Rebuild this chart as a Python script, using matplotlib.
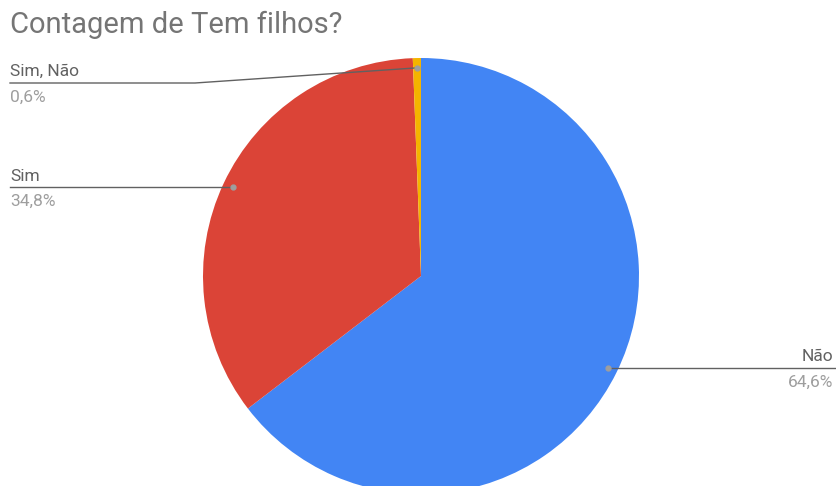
import numpy as np
import matplotlib
matplotlib.use("Agg")
import matplotlib.pyplot as plt

# pie data, clockwise from 12 o'clock
labels = ["Não", "Sim", "Sim, Não"]
shares = [64.6, 34.8, 0.6]
colors = ["#4285F4", "#DB4437", "#F4B400"]
pct_text = ["64,6%", "34,8%", "0,6%"]

W, H = 836, 486
plt.rcParams["font.family"] = ["Roboto", "DejaVu Sans"]

fig = plt.figure(figsize=(W / 100, H / 100), dpi=100)
ax = fig.add_axes([0, 0, 1, 1])

cx, cy, R = 421, H - 276, 218
wedges, _ = ax.pie(shares, colors=colors, startangle=90, counterclock=False,
                   center=(cx, cy), radius=R, frame=True,
                   wedgeprops=dict(linewidth=0))
ax.set_xlim(0, W)
ax.set_ylim(0, H)
ax.set_aspect("equal")
ax.axis("off")

fig.text(10 / W, 1 - 25 / H, "Contagem de Tem filhos?", fontsize=21,
         color="#757575", va="center", ha="left")

line_c, dot_c = "#616161", "#9e9e9e"
name_c, pct_c = "#616161", "#9e9e9e"
fs = 12.5


def anchor(w):
    mid = np.deg2rad((w.theta1 + w.theta2) / 2)
    return cx + 0.955 * R * np.cos(mid), cy + 0.955 * R * np.sin(mid)


for w, name, pct in zip(wedges, labels, pct_text):
    px, py = anchor(w)
    ax.plot(px, py, "o", ms=3.5, color=dot_c, zorder=5)
    if name == "Não":
        ax.plot([px, 835], [py, py], color=line_c, lw=1)
        ax.text(833, py + 12, name, ha="right", va="center", fontsize=fs, color=name_c)
        ax.text(833, py - 14, pct, ha="right", va="center", fontsize=fs, color=pct_c)
    elif name == "Sim":
        ax.plot([10, px], [py, py], color=line_c, lw=1)
        ax.text(10, py + 11, name, ha="left", va="center", fontsize=fs, color=name_c)
        ax.text(10, py - 14, pct, ha="left", va="center", fontsize=fs, color=pct_c)
    else:
        ly = H - 83
        ax.plot([10, 195, px], [ly, ly, py], color=line_c, lw=1)
        ax.text(10, ly + 12, name, ha="left", va="center", fontsize=fs, color=name_c)
        ax.text(10, ly - 14, pct, ha="left", va="center", fontsize=fs, color=pct_c)

fig.savefig("out.png", dpi=100, facecolor="white")
